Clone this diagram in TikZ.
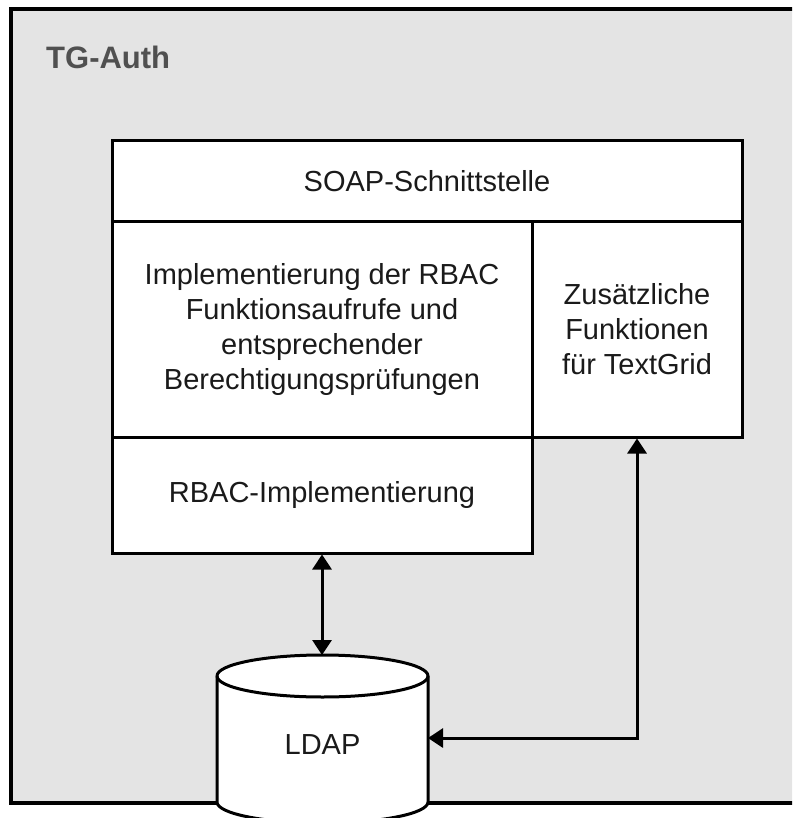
\documentclass[tikz,border=0pt]{standalone}
\usepackage{fontspec}
\setmainfont{Liberation Sans}
\usetikzlibrary{arrows.meta}
\definecolor{framegray}{HTML}{E4E4E4}
\definecolor{labelgray}{HTML}{505050}
\definecolor{textdark}{HTML}{1A1A1A}
\begin{document}
\begin{tikzpicture}[x=1pt,y=1pt,
  box/.style={draw=black, line width=3pt, fill=white, inner sep=0pt, align=center,
    font=\fontsize{29}{35}\selectfont, text=textdark},
  conn/.style={line width=3pt, {Triangle[length=15pt,width=19pt]}-{Triangle[length=15pt,width=19pt]}},
  cyl/.style={draw=black, line width=3pt, fill=white}]
\useasboundingbox (0,0) rectangle (792,-818);
\clip (0,0) rectangle (792,-818);
% outer frame
\draw[line width=3.5pt, fill=framegray] (11,-9) rectangle (812,-803);
\node[font=\fontsize{31}{36}\selectfont\bfseries, text=labelgray, anchor=west, inner sep=0pt] (tg) at (46,-57) {TG-Auth};
% boxes
\node[box, minimum width=630pt, minimum height=81pt] (soap) at (427,-181.5) {SOAP-Schnittstelle};
\node[box, minimum width=420pt, minimum height=215pt] (impl) at (322,-329.5)
  {Implementierung der RBAC\\Funktionsaufrufe und\\entsprechender\\Berechtigungsprüfungen};
\node[box, minimum width=210pt, minimum height=215pt] (extra) at (637,-329.5)
  {Zusätzliche\\Funktionen\\für TextGrid};
\node[box, minimum width=420pt, minimum height=116pt] (rbac) at (322,-495) {RBAC-Implementierung};
% cylinder (LDAP)
\draw[cyl] (217,-676) -- (217,-802) arc[start angle=180, end angle=360, x radius=105.5, y radius=21]
  -- (428,-676) arc[start angle=0, end angle=180, x radius=105.5, y radius=21] -- cycle;
\draw[line width=3pt] (217,-676) arc[start angle=180, end angle=360, x radius=105.5, y radius=21];
\node[font=\fontsize{29}{35}\selectfont, text=textdark] (ldap) at (322.5,-745) {LDAP};
\coordinate (ldaptop) at (322.5,-655);
\coordinate (ldapright) at (428,-738);
% connectors
\draw[conn] (rbac.south) -- (rbac.south |- ldaptop);
\draw[conn] (ldapright) -| (extra.south);
\end{tikzpicture}
\end{document}
